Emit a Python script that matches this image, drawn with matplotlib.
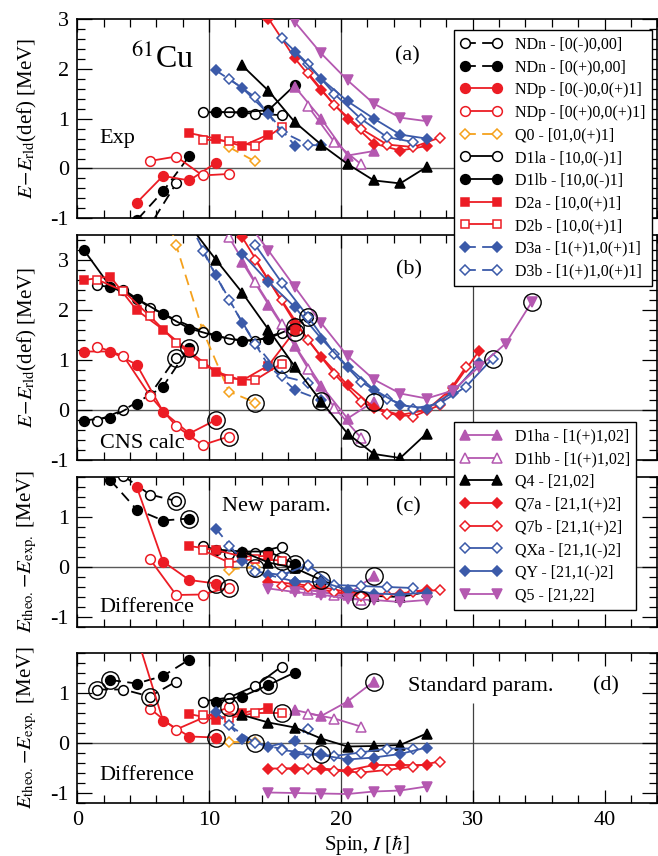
import matplotlib
matplotlib.use("Agg")
import matplotlib.pyplot as plt
from matplotlib.lines import Line2D

plt.rcParams['font.family'] = ['Liberation Serif', 'DejaVu Serif']
plt.rcParams['mathtext.fontset'] = 'stix'
plt.rcParams['axes.unicode_minus'] = False

# ---------------- data (spin I, energy in MeV) ----------------
series_keys = ['NDn_o', 'NDn_f', 'NDp_f', 'NDp_o', 'Q0', 'D1la', 'D1lb', 'D2a', 'D2b',
               'D3a', 'D3b', 'D1ha', 'D1hb', 'Q4', 'Q7a', 'Q7b', 'QXa', 'QY', 'Q5']

legend1_labels = ['NDn - [0(-)0,00]', 'NDn - [0(+)0,00]', 'NDp - [0(-)0,0(+)1]',
                  'NDp - [0(+)0,0(+)1]', 'Q0 - [01,0(+)1]', 'D1la - [10,0(-)1]',
                  'D1lb - [10,0(-)1]', 'D2a - [10,0(+)1]', 'D2b - [10,0(+)1]',
                  'D3a - [1(+)1,0(+)1]', 'D3b - [1(+)1,0(+)1]']
legend2_labels = ['D1ha - [1(+)1,02]', 'D1hb - [1(+)1,02]', 'Q4 - [21,02]',
                  'Q7a - [21,1(+)2]', 'Q7b - [21,1(+)2]', 'QXa - [21,1(-)2]',
                  'QY - [21,1(-)2]', 'Q5 - [21,22]']

# panel (a): experiment
exp_a = {
    'NDn_o': ([3.5, 5.5, 7.5], [-1.82, -1.15, -0.30]),
    'NDn_f': ([2.5, 4.5, 6.5, 8.5], [-1.89, -1.04, -0.46, 0.25]),
    'NDp_f': ([4.5, 6.5, 8.5, 10.5], [-0.69, -0.15, -0.24, 0.11]),
    'NDp_o': ([5.5, 7.5, 9.5, 11.5], [0.15, 0.24, -0.14, -0.11]),
    'Q0':    ([11.5, 13.5], [0.43, 0.14]),
    'D1la':  ([9.5, 11.5, 13.5, 15.5], [1.13, 1.13, 1.10, 1.07]),
    'D1lb':  ([10.5, 12.5, 14.5, 16.5], [1.13, 1.13, 1.17, 1.67]),
    'D2a':   ([8.5, 10.5, 12.5, 14.5], [0.71, 0.60, 0.45, 0.68]),
    'D2b':   ([9.5, 11.5, 13.5, 15.5], [0.58, 0.55, 0.46, 0.83]),
    'D3a':   ([10.5, 12.5, 14.5, 16.5, 18.5], [1.97, 1.62, 1.10, 0.46, 0.47]),
    'D3b':   ([11.5, 13.5, 15.5, 17.5], [1.80, 1.43, 0.74, 0.48]),
    'D1ha':  ([16.5, 18.5, 20.5, 22.5], [1.64, 1.00, 0.26, 0.35]),
    'D1hb':  ([17.5, 19.5, 21.5], [1.25, 0.53, 0.09]),
    'Q4':    ([12.5, 14.5, 16.5, 18.5, 20.5, 22.5, 24.5, 26.5],
              [2.07, 1.56, 0.93, 0.48, 0.09, -0.24, -0.30, 0.03]),
    'Q7a':   ([14.5, 16.5, 18.5, 20.5, 22.5, 24.5, 26.5],
              [3.01, 2.21, 1.57, 1.00, 0.50, 0.36, 0.45]),
    'Q7b':   ([17.5, 19.5, 21.5, 23.5, 25.5, 27.5], [1.92, 1.27, 0.80, 0.48, 0.43, 0.62]),
    'QXa':   ([15.5, 17.5, 19.5, 21.5, 23.5, 25.5], [2.61, 2.10, 1.50, 1.00, 0.63, 0.53]),
    'QY':    ([16.5, 18.5, 20.5, 22.5, 24.5, 26.5], [2.34, 1.80, 1.35, 1.00, 0.68, 0.60]),
    'Q5':    ([14.5, 16.5, 18.5, 20.5, 22.5, 24.5, 26.5],
              [3.60, 2.94, 2.31, 1.77, 1.30, 1.02, 0.95]),
}

# panel (b): CNS calculation
calc_b = {
    'NDn_o': ([1.5, 3.5, 5.5, 7.5], [-0.21, 0.00, 0.30, 1.05]),
    'NDn_f': ([0.5, 2.5, 4.5, 6.5, 8.5], [-0.21, -0.15, 0.12, 0.47, 1.25]),
    'NDp_f': ([0.5, 2.5, 4.5, 6.5, 8.5, 10.5], [1.17, 1.17, 0.91, -0.03, -0.47, -0.20]),
    'NDp_o': ([1.5, 3.5, 5.5, 7.5, 9.5, 11.5], [1.27, 1.08, 0.29, -0.32, -0.70, -0.53]),
    'Q0':    ([5.5, 7.5, 9.5, 11.5, 13.5], [5.0, 3.30, 1.60, 0.37, 0.15]),
    'D1la':  ([1.5, 3.5, 5.5, 7.5, 9.5, 11.5, 13.5, 15.5, 17.5],
              [2.50, 2.41, 2.05, 1.80, 1.57, 1.42, 1.38, 1.55, 1.87]),
    'D1lb':  ([0.5, 2.5, 4.5, 6.5, 8.5, 10.5, 12.5, 14.5, 16.5],
              [3.20, 2.47, 2.23, 1.92, 1.63, 1.48, 1.38, 1.43, 1.66]),
    'D2a':   ([0.5, 2.5, 4.5, 6.5, 8.5, 10.5, 12.5, 14.5, 16.5],
              [2.60, 2.67, 2.00, 1.61, 1.17, 0.77, 0.59, 0.89, 1.58]),
    'D2b':   ([1.5, 3.5, 5.5, 7.5, 9.5, 11.5, 13.5, 15.5],
              [2.61, 2.38, 1.88, 1.35, 0.92, 0.63, 0.60, 0.93]),
    'D3a':   ([8.5, 10.5, 12.5, 14.5, 16.5, 18.5], [3.75, 2.70, 1.75, 0.89, 0.40, 0.20]),
    'D3b':   ([9.5, 11.5, 13.5, 15.5, 17.5], [3.19, 2.20, 1.33, 0.68, 0.55]),
    'D1ha':  ([12.5, 14.5, 16.5, 18.5, 20.5, 22.5], [2.96, 2.11, 1.29, 0.49, -0.17, 0.17]),
    'D1hb':  ([11.5, 13.5, 15.5, 17.5, 19.5, 21.5], [3.46, 2.56, 1.73, 0.83, 0.05, -0.55]),
    'Q4':    ([8.5, 10.5, 12.5, 14.5, 16.5, 18.5, 20.5, 22.5, 24.5, 26.5],
              [3.70, 3.01, 2.35, 1.61, 0.87, 0.17, -0.47, -0.88, -0.96, -0.47]),
    'Q7a':   ([12.5, 14.5, 16.5, 18.5, 20.5, 22.5, 24.5, 26.5, 28.5, 30.5],
              [3.46, 2.60, 1.75, 1.07, 0.50, 0.05, -0.10, 0.00, 0.45, 1.19]),
    'Q7b':   ([13.5, 15.5, 17.5, 19.5, 21.5, 23.5, 25.5, 27.5, 29.5],
              [3.00, 2.20, 1.40, 0.72, 0.17, -0.07, -0.13, 0.10, 0.87]),
    'QXa':   ([13.5, 15.5, 17.5, 19.5, 21.5, 23.5, 25.5, 27.5, 29.5, 31.5],
              [3.30, 2.55, 1.87, 1.13, 0.57, 0.23, 0.03, 0.13, 0.47, 1.03]),
    'QY':    ([12.5, 14.5, 16.5, 18.5, 20.5, 22.5, 24.5, 26.5, 28.5, 30.5],
              [3.13, 2.56, 2.06, 1.43, 0.87, 0.41, 0.10, 0.03, 0.35, 0.95]),
    'Q5':    ([12.5, 14.5, 16.5, 18.5, 20.5, 22.5, 24.5, 26.5, 28.5, 30.5, 32.5, 34.5],
              [3.90, 3.19, 2.46, 1.74, 1.08, 0.61, 0.33, 0.23, 0.39, 0.87, 1.33, 2.17]),
}

# panel (c): difference, new parameters
diff_c = {
    'NDn_o': ([3.5, 5.5, 7.5], [1.82, 1.45, 1.32]),
    'NDn_f': ([2.5, 4.5, 6.5, 8.5], [1.74, 1.15, 0.93, 0.97]),
    'NDp_f': ([4.5, 6.5, 8.5, 10.5], [1.61, 0.11, -0.26, -0.33]),
    'NDp_o': ([5.5, 7.5, 9.5, 11.5], [0.16, -0.56, -0.55, -0.41]),
    'Q0':    ([11.5, 13.5], [-0.05, 0.00]),
    'D1la':  ([9.5, 11.5, 13.5, 15.5], [0.42, 0.27, 0.28, 0.41]),
    'D1lb':  ([10.5, 12.5, 14.5, 16.5], [0.35, 0.31, 0.31, 0.06]),
    'D2a':   ([8.5, 10.5, 12.5, 14.5], [0.42, 0.34, 0.21, 0.22]),
    'D2b':   ([9.5, 11.5, 13.5, 15.5], [0.34, 0.09, 0.16, 0.13]),
    'D3a':   ([10.5, 12.5, 14.5, 16.5, 18.5], [0.77, 0.13, -0.16, -0.29, -0.27]),
    'D3b':   ([11.5, 13.5, 15.5, 17.5], [0.42, -0.09, -0.16, 0.02]),
    'D1ha':  ([16.5, 18.5, 20.5, 22.5], [-0.42, -0.50, -0.55, -0.18]),
    'D1hb':  ([17.5, 19.5, 21.5], [-0.45, -0.55, -0.66]),
    'Q4':    ([12.5, 14.5, 16.5, 18.5, 20.5, 22.5, 24.5, 26.5],
              [0.31, 0.09, -0.02, -0.26, -0.47, -0.58, -0.60, -0.50]),
    'Q7a':   ([14.5, 16.5, 18.5, 20.5, 22.5, 24.5, 26.5],
              [-0.29, -0.34, -0.40, -0.50, -0.57, -0.54, -0.45]),
    'Q7b':   ([15.5, 17.5, 19.5, 21.5, 23.5, 25.5, 27.5],
              [-0.38, -0.40, -0.50, -0.58, -0.55, -0.50, -0.46]),
    'QXa':   ([15.5, 17.5, 19.5, 21.5, 23.5, 25.5], [-0.16, 0.04, -0.36, -0.38, -0.40, -0.42]),
    'QY':    ([16.5, 18.5, 20.5, 22.5, 24.5, 26.5], [-0.29, -0.30, -0.45, -0.53, -0.55, -0.51]),
    'Q5':    ([14.5, 16.5, 18.5, 20.5, 22.5, 24.5, 26.5],
              [-0.43, -0.50, -0.55, -0.64, -0.66, -0.70, -0.66]),
}

# panel (d): difference, standard parameters
diff_d = {
    'NDn_o': ([1.5, 3.5, 5.5, 7.5], [1.07, 1.07, 0.93, 1.23]),
    'NDn_f': ([2.5, 4.5, 6.5, 8.5], [1.26, 1.19, 1.34, 1.67]),
    'NDp_f': ([4.5, 6.5, 8.5, 10.5], [2.15, 0.45, 0.13, 0.11]),
    'NDp_o': ([5.5, 7.5, 9.5, 11.5], [0.69, 0.27, 0.50, 0.72]),
    'Q0':    ([11.5, 13.5], [0.03, 0.03]),
    'D1la':  ([9.5, 11.5, 13.5, 15.5], [0.83, 0.91, 1.14, 1.53]),
    'D1lb':  ([10.5, 12.5, 14.5, 16.5], [0.83, 0.93, 1.16, 1.41]),
    'D2a':   ([8.5, 10.5, 12.5, 14.5], [0.58, 0.47, 0.60, 0.71]),
    'D2b':   ([9.5, 11.5, 13.5, 15.5], [0.57, 0.50, 0.60, 0.60]),
    'D3a':   ([10.5, 12.5, 14.5, 16.5, 18.5], [0.63, 0.09, -0.07, 0.05, -0.22]),
    'D3b':   ([11.5, 13.5, 15.5, 17.5], [0.36, 0.00, -0.12, 0.29]),
    'D1ha':  ([16.5, 18.5, 20.5, 22.5], [0.66, 0.54, 0.83, 1.23]),
    'D1hb':  ([17.5, 19.5, 21.5], [0.59, 0.49, 0.33]),
    'Q4':    ([12.5, 14.5, 16.5, 18.5, 20.5, 22.5, 24.5, 26.5],
              [0.56, 0.41, 0.31, 0.09, -0.07, -0.06, -0.04, 0.19]),
    'Q7a':   ([14.5, 16.5, 18.5, 20.5, 22.5, 24.5, 26.5],
              [-0.51, -0.51, -0.51, -0.55, -0.44, -0.44, -0.44]),
    'Q7b':   ([15.5, 17.5, 19.5, 21.5, 23.5, 25.5, 27.5],
              [-0.51, -0.51, -0.55, -0.59, -0.54, -0.47, -0.37]),
    'QXa':   ([15.5, 17.5, 19.5, 21.5, 23.5, 25.5], [-0.14, -0.20, -0.26, -0.19, -0.11, -0.11]),
    'QY':    ([16.5, 18.5, 20.5, 22.5, 24.5, 26.5], [-0.22, -0.24, -0.33, -0.29, -0.22, -0.09]),
    'Q5':    ([14.5, 16.5, 18.5, 20.5, 22.5, 24.5, 26.5],
              [-0.99, -1.00, -1.01, -1.02, -0.97, -0.95, -0.87]),
}

# circled (highlighted) points
circ_b_spin = [7.5, 8.5, 10.5, 11.5, 13.5, 15.5, 16.5, 16.5, 17.5, 18.5, 21.5, 22.5, 31.5, 34.5]
circ_b_E = [1.05, 1.25, -0.20, -0.53, 0.15, 0.93, 1.66, 1.56, 1.87, 0.18, -0.55, 0.17, 1.03, 2.17]
circ_c_spin = [7.5, 8.5, 10.5, 11.5, 13.5, 15.5, 16.5, 18.5, 21.5, 22.5]
circ_c_E = [1.32, 0.97, -0.33, -0.41, -0.02, 0.13, 0.06, -0.26, -0.66, -0.18]
circ_d_spin = [1.5, 2.5, 5.5, 10.5, 11.5, 13.5, 14.5, 15.5, 18.5, 22.5]
circ_d_E = [1.07, 1.26, 0.93, 0.11, 0.72, 0.00, 1.16, 0.60, -0.22, 1.23]

# ---------------- styles ----------------
RED = '#ec1c24'
BLUE = '#3b5aa9'
MAG = '#b458b0'
ORG = '#f5a11c'
BLK = 'black'
DASH = (0, (6, 3.5))
W_ = 'white'


def st(color, marker, filled, ls, ms):
    return dict(color=color, marker=marker, mfc=(color if filled else W_), mec=color,
                ls=ls, ms=ms, lw=1.3, mew=1.1)


styles = {
    'NDn_o': st(BLK, 'o', False, DASH, 7),
    'NDn_f': st(BLK, 'o', True, DASH, 7),
    'NDp_f': st(RED, 'o', True, '-', 7),
    'NDp_o': st(RED, 'o', False, '-', 7),
    'Q0':    st(ORG, 'D', False, DASH, 5),
    'D1la':  st(BLK, 'o', False, '-', 7),
    'D1lb':  st(BLK, 'o', True, '-', 7),
    'D2a':   st(RED, 's', True, '-', 6.3),
    'D2b':   st(RED, 's', False, '-', 6.3),
    'D3a':   st(BLUE, 'D', True, DASH, 5),
    'D3b':   st(BLUE, 'D', False, DASH, 5),
    'D1ha':  st(MAG, '^', True, '-', 7.5),
    'D1hb':  st(MAG, '^', False, '-', 7.5),
    'Q4':    st(BLK, '^', True, '-', 7.5),
    'Q7a':   st(RED, 'D', True, '-', 5),
    'Q7b':   st(RED, 'D', False, '-', 5),
    'QXa':   st(BLUE, 'D', False, '-', 5),
    'QY':    st(BLUE, 'D', True, '-', 5),
    'Q5':    st(MAG, 'v', True, '-', 7.5),
}

# ---------------- figure ----------------
W, H = 658, 856
fig = plt.figure(figsize=(W / 100, H / 100), dpi=100)
X0, X1 = 77.3, 657.3


def axes_px(top, bot):
    return fig.add_axes([X0 / W, 1 - bot / H, (X1 - X0) / W, (bot - top) / H])


ax_a = axes_px(19, 218.3)
ax_b = axes_px(235, 460)
ax_c = axes_px(477, 627)
ax_d = axes_px(653, 803)

panels = [(ax_a, exp_a, (-1, 3), [-1, 0, 1, 2, 3], None, None),
          (ax_b, calc_b, (-1, 3.5), [-1, 0, 1, 2, 3], circ_b_spin, circ_b_E),
          (ax_c, diff_c, (-1.2, 1.8), [-1, 0, 1], circ_c_spin, circ_c_E),
          (ax_d, diff_d, (-1.2, 1.8), [-1, 0, 1], circ_d_spin, circ_d_E)]

for ax, data, ylim, yt, cs, ce in panels:
    ax.set_xlim(0, 44)
    ax.set_ylim(*ylim)
    ax.set_yticks(yt)
    ax.set_yticks([v / 5 for v in range(int(ylim[0] * 5), int(ylim[1] * 5) + 1)], minor=True)
    ax.set_xticks([0, 10, 20, 30, 40])
    ax.set_xticks(list(range(0, 45, 2)), minor=True)
    ax.tick_params(axis='both', which='both', direction='in', top=True, right=True,
                   labelsize=16, width=0.9, pad=6)
    ax.tick_params(axis='y', which='major', length=11)
    ax.tick_params(axis='y', which='minor', length=5.5)
    ax.tick_params(axis='x', which='major', length=9.5)
    ax.tick_params(axis='x', which='minor', length=6)
    for sp in ax.spines.values():
        sp.set_linewidth(1.2)
    ax.axhline(0, color='0.35', lw=1.0, zorder=1)
    for xv in (10, 20):
        ax.axvline(xv, color='0.25', lw=0.9, zorder=1)
    for key in series_keys:
        if key in data:
            s, e = data[key]
            ax.plot(s, e, zorder=3, clip_on=True, **styles[key])
    if cs is not None:
        ax.plot(cs, ce, ls='none', marker='o', ms=12.5, mfc='none', mec='black',
                mew=1.0, zorder=6)

ax_b.axvline(30, color='0.25', lw=0.9, zorder=1)
ax_d.vlines(30, -1.2, 0.8, color='0.25', lw=0.9, zorder=1)

for ax in (ax_a, ax_b, ax_c):
    ax.tick_params(labelbottom=False)
ax_d.set_xlabel(r'Spin, $I$ [$\hbar$]', fontsize=15, labelpad=2)

ylab1 = r'$E\!-\!E_{\mathrm{rld}}$(def) [MeV]'
ylab2 = r'$E_{\mathrm{theo.}}\!-\!E_{\mathrm{exp.}}$ [MeV]'
ax_a.set_ylabel(ylab1, fontsize=15)
ax_b.set_ylabel(ylab1, fontsize=15)
ax_c.set_ylabel(ylab2, fontsize=15)
ax_d.set_ylabel(ylab2, fontsize=15)
for ax in (ax_a, ax_b, ax_c, ax_d):
    ax.yaxis.set_label_coords(-0.066, 0.5)

# panel texts
ax_a.text(4.1, 2.2, r'$^{61}$Cu', fontsize=23, va='center', ha='left')
ax_a.text(1.7, 0.6, 'Exp', fontsize=16, va='center', ha='left')
ax_a.text(24.1, 2.27, '(a)', fontsize=16, va='center', ha='left')
ax_b.text(24.2, 2.8, '(b)', fontsize=16, va='center', ha='left')
ax_b.text(1.7, -0.66, 'CNS calc', fontsize=16, va='center', ha='left', zorder=2)
ax_c.text(11.0, 1.2, 'New param.', fontsize=16, va='center', ha='left')
ax_c.text(24.2, 1.2, '(c)', fontsize=16, va='center', ha='left')
ax_c.text(1.7, -0.82, 'Difference', fontsize=16, va='center', ha='left')
ax_d.text(25.1, 1.14, 'Standard param.', fontsize=16, va='center', ha='left')
ax_d.text(39.1, 1.14, '(d)', fontsize=16, va='center', ha='left')
ax_d.text(1.7, -0.66, 'Difference', fontsize=16, va='center', ha='left')


# legends
def handle(key):
    return Line2D([0], [0], **styles[key])


h1 = [handle(k) for k in series_keys[:11]]
h2 = [handle(k) for k in series_keys[11:]]
leg_kw = dict(loc='upper left', fontsize=11.5, numpoints=2, handlelength=2.6,
              handletextpad=0.8, labelspacing=0.42, borderpad=0.4, borderaxespad=0,
              fancybox=False, framealpha=1, edgecolor='black')
l1 = fig.legend(h1, legend1_labels, bbox_to_anchor=(454 / W, 1 - 30 / H), **leg_kw)
l2 = fig.legend(h2, legend2_labels, bbox_to_anchor=(454 / W, 1 - 422 / H), **leg_kw)
for lg in (l1, l2):
    lg.get_frame().set_linewidth(1.0)

fig.savefig('out.png', dpi=100)
